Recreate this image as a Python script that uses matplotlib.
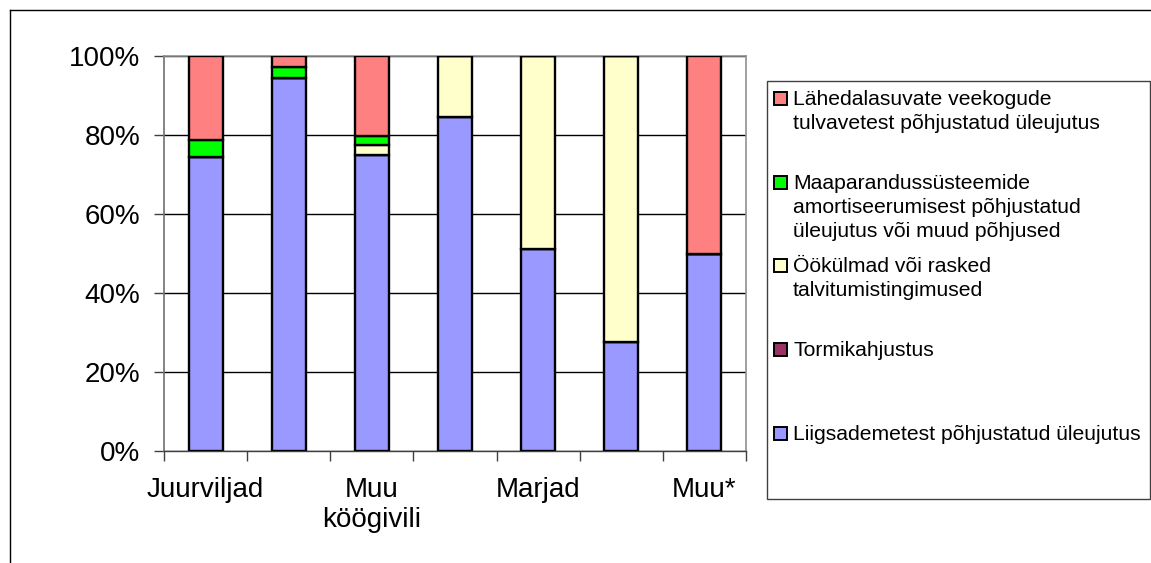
import matplotlib
matplotlib.use("Agg")
import matplotlib.pyplot as plt
from matplotlib.patches import Rectangle
from matplotlib.lines import Line2D
import numpy as np

plt.rcParams['font.family'] = ['Liberation Sans', 'DejaVu Sans']

categories = ["Juurviljad", "", "Muu\nköögivili", "", "Marjad", "", "Muu*"]

# stacking order bottom -> top
series_names = [
    "Liigsademetest põhjustatud üleujutus",
    "Tormikahjustus",
    "Öökülmad või rasked\ntalvitumistingimused",
    "Maaparandussüsteemide\namortiseerumisest põhjustatud\nüleujutus või muud põhjused",
    "Lähedalasuvate veekogude\ntulvavetest põhjustatud üleujutus",
]
liigsademed = [74.4, 94.5, 74.9, 84.5, 51.1, 27.7, 50.0]
tormikahjustus = [0, 0, 0, 0, 0, 0, 0]
ookulmad = [0, 0, 2.5, 15.5, 48.9, 72.3, 0]
maaparandus = [4.3, 2.8, 2.4, 0, 0, 0, 0]
tulvaveed = [21.3, 2.7, 20.2, 0, 0, 0, 50.0]
series_values = [liigsademed, tormikahjustus, ookulmad, maaparandus, tulvaveed]
colors = ["#9999FF", "#993366", "#FFFFCC", "#00FF00", "#FF8080"]
ytick_labels = ["0%", "20%", "40%", "60%", "80%", "100%"]

W, H = 1151, 563
fig = plt.figure(figsize=(W / 100, H / 100), dpi=100)

ax = fig.add_axes([164 / W, 1 - 451 / H, (746 - 164) / W, (451 - 56) / H])
x = np.arange(len(categories))
bottom = np.zeros(len(categories))
for vals, col in zip(series_values, colors):
    v = np.array(vals, dtype=float)
    ax.bar(x, v, bottom=bottom, width=0.41, color=col, edgecolor="black",
           linewidth=1.7, zorder=3)
    bottom += v

ax.set_xlim(-0.5, len(categories) - 0.5)
ax.set_ylim(0, 100)
ax.set_yticks([0, 20, 40, 60, 80, 100])
ax.set_yticklabels(ytick_labels)
ax.set_xticks(x)
ax.set_xticklabels(categories)
ax.set_xticks(np.arange(len(categories) + 1) - 0.5, minor=True)
ax.tick_params(axis="x", which="major", length=0, pad=19, labelsize=20)
ax.tick_params(axis="x", which="minor", length=7, width=1, color="#404040", direction="out")
ax.tick_params(axis="y", length=7, width=1, color="#404040", direction="out", pad=10, labelsize=20)
ax.yaxis.grid(True, color="black", linewidth=1, zorder=0)
ax.set_axisbelow(True)
ax.spines["bottom"].set_color("#404040")
ax.spines["bottom"].set_linewidth(1)
ax.spines["left"].set_color("#707070")
ax.spines["left"].set_linewidth(1.2)
for s in ["top", "right"]:
    ax.spines[s].set_color("#909090")
    ax.spines[s].set_linewidth(1.2)

# outer chart border (left and top visible)
fig.add_artist(Line2D([10 / W, 10 / W], [0, 1 - 10 / H], transform=fig.transFigure,
                      color="black", linewidth=1))
fig.add_artist(Line2D([10 / W, 1], [1 - 10 / H, 1 - 10 / H], transform=fig.transFigure,
                      color="black", linewidth=1))

# legend box
fig.add_artist(Rectangle((767 / W, 1 - 499 / H), (1150 - 767) / W, (499 - 81) / H,
                         transform=fig.transFigure, facecolor="white", edgecolor="#404040",
                         linewidth=1))
legend_order = [4, 3, 2, 1, 0]
entry_baseline = [105, 189, 272, 356, 440]
line_step = 24
for idx, yb in zip(legend_order, entry_baseline):
    fig.add_artist(Rectangle((774 / W, 1 - yb / H), 13 / W, 13 / H,
                             transform=fig.transFigure, facecolor=colors[idx],
                             edgecolor="black", linewidth=1.4))
    for i, line in enumerate(series_names[idx].split("\n")):
        fig.text(793 / W, 1 - (yb + i * line_step) / H, line, ha="left",
                 va="baseline", fontsize=15.2)

fig.savefig("out.png", dpi=100)
